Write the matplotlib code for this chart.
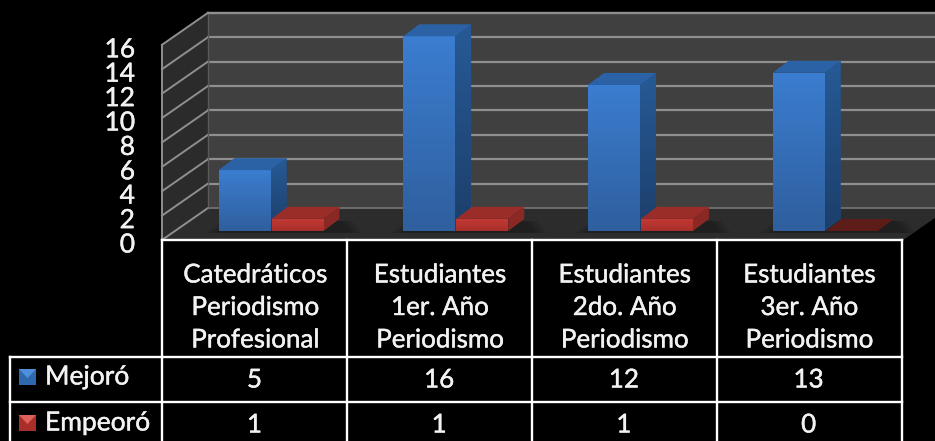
import matplotlib
matplotlib.use("Agg")
import matplotlib.pyplot as plt
import matplotlib.patheffects as pe
import numpy as np
from matplotlib.colors import LinearSegmentedColormap

categorias = ["Catedráticos\nPeriodismo\nProfesional",
              "Estudiantes\n1er. Año\nPeriodismo",
              "Estudiantes\n2do. Año\nPeriodismo",
              "Estudiantes\n3er. Año\nPeriodismo"]
mejoro = [5, 16, 12, 13]
empeoro = [1, 1, 1, 0]
ticks = [0, 2, 4, 6, 8, 10, 12, 14, 16]

W, H = 935, 441
# escala: categoria -> px, valor -> px
PX_CAT = 184.7
PX_VAL = 12.17
X0 = 270.5
Y0 = 231


def dx(px):
    return (px - X0) / PX_CAT


def dy(px):
    return (Y0 - px) / PX_VAL


DEPTH_X = 16 / PX_CAT
DEPTH_Y = 12 / PX_VAL
ANCHO = 52 / PX_CAT
# el texto original se ve algo mas grueso que Lato normal
GROSOR = [pe.withStroke(linewidth=0.3, foreground="#f2f2f2")]
TEXTO = "#f2f2f2"

fig = plt.figure(figsize=(W / 100, H / 100), dpi=100, facecolor="black")
ax = fig.add_axes([0, 0, 1, 1])
ax.set_xlim(dx(0), dx(W))
ax.set_ylim(dy(H), dy(0))
ax.axis("off")
plt.rcParams["font.family"] = ["Lato", "DejaVu Sans"]

# --- paredes y piso ---
ax.fill([dx(208), dx(W), dx(W), dx(208)], [dy(13), dy(13), dy(208), dy(208)], color="#404040", zorder=1)
ax.fill([dx(162), dx(208), dx(208), dx(162)], [dy(45), dy(13), dy(208), dy(240)], color="#2b2b2b", zorder=1)
ax.fill([dx(162), dx(902), dx(948), dx(208)], [dy(240), dy(240), dy(208), dy(208)], color="#2c2c2c", zorder=1)

# grilla: pared del fondo y pared lateral
for t in ticks:
    y_front = dy(240 - t * 12.2)
    y_back = dy(208 - t * 12.2)
    if t > 0:
        ax.plot([dx(208), dx(W)], [y_back, y_back], color="#8f8f8f", lw=1.6, zorder=2)
    ax.plot([dx(162), dx(208)], [y_front, y_back], color="#8f8f8f", lw=1.4, zorder=2)
    ax.text(dx(135), y_front - 5 / PX_VAL, str(t), color=TEXTO, fontsize=19, ha="right", va="center",
            path_effects=GROSOR)
ax.plot([dx(162), dx(162)], [dy(45), dy(240)], color="#8f8f8f", lw=1.4, zorder=2)
ax.plot([dx(208), dx(208)], [dy(13), dy(208)], color="#5a5a5a", lw=1, zorder=2)
ax.plot([dx(208), dx(W)], [dy(13), dy(13)], color="#8f8f8f", lw=1.6, zorder=2)
# la ultima linea de grilla queda justo sobre el piso
ax.plot([dx(208), dx(W)], [dy(208), dy(208)], color="#777777", lw=1.2, zorder=2)

azul_front = LinearSegmentedColormap.from_list("a", ["#2f5f9e", "#3b7dd0"])
azul_lado = LinearSegmentedColormap.from_list("al", ["#1c3f6b", "#275a96"])
rojo_front = LinearSegmentedColormap.from_list("r", ["#a92e2a", "#c43a34"])
grad = np.linspace(0, 1, 64).reshape(-1, 1)


def sombra(izq, der):
    for k, a in zip([12, 7, 3], [0.25, 0.3, 0.35]):
        ax.fill([izq - k / PX_CAT, der + DEPTH_X + (10 + k) / PX_CAT, der + DEPTH_X + k / PX_CAT, izq + DEPTH_X - k / PX_CAT],
                [-2 / PX_VAL, -2 / PX_VAL, 10 / PX_VAL, 10 / PX_VAL], color="#1a1a1a", alpha=a, lw=0, zorder=3)


def barra3d(x, v, cmap, c_top, c_lado, z):
    izq, der = x - ANCHO / 2, x + ANCHO / 2
    front = ax.bar(x, v, width=ANCHO, color=c_top, zorder=z)[0]
    im = ax.imshow(grad, extent=(izq, der, 0, v), aspect="auto", origin="lower", cmap=cmap, zorder=z + 0.1)
    im.set_clip_path(front)
    lado = ax.fill([der, der + DEPTH_X, der + DEPTH_X, der], [0, DEPTH_Y, v + DEPTH_Y, v], color=c_lado, lw=0, zorder=z)[0]
    if cmap is azul_front:
        im2 = ax.imshow(grad, extent=(der, der + DEPTH_X, 0, v + DEPTH_Y), aspect="auto", origin="lower",
                        cmap=azul_lado, zorder=z + 0.1)
        im2.set_clip_path(lado)
    ax.fill([izq, der, der + DEPTH_X, izq + DEPTH_X], [v, v, v + DEPTH_Y, v + DEPTH_Y], color=c_top, lw=0, zorder=z + 0.2)


for i in range(len(categorias)):
    x_az = i - ANCHO / 2
    x_ro = i + ANCHO / 2 + 1 / PX_CAT
    sombra(x_az - ANCHO / 2, x_ro + ANCHO / 2)
    z = 5 + i
    if empeoro[i] > 0:
        barra3d(x_ro, empeoro[i], rojo_front, "#9a2d28", "#8a2824", z + 0.5)
    else:
        izq, der = x_ro - ANCHO / 2, x_ro + ANCHO / 2
        ax.fill([izq, der, der + DEPTH_X, izq + DEPTH_X], [0, 0, DEPTH_Y, DEPTH_Y], color="#5e1c19", lw=0, zorder=z)
    barra3d(x_az, mejoro[i], azul_front, "#2b62a6", "#234f86", z)

# --- tabla de datos ---
cols = [162, 347, 532, 717, 902]
LW = 1.7
ax.plot([dx(162), dx(902)], [dy(240), dy(240)], color="white", lw=LW, zorder=20)
for f in [357, 402]:
    ax.plot([dx(10), dx(902)], [dy(f), dy(f)], color="white", lw=LW, zorder=20)
ax.plot([dx(10), dx(10)], [dy(357), dy(H)], color="white", lw=LW, zorder=20)
for c in cols:
    ax.plot([dx(c), dx(c)], [dy(240), dy(H)], color="white", lw=LW, zorder=20)

for i, nombre in enumerate(categorias):
    for j, linea in enumerate(nombre.split("\n")):
        ax.text(i - 15 / PX_CAT, dy(275 + j * 32.5), linea, color=TEXTO, fontsize=18.7,
                ha="center", va="center", zorder=21, path_effects=GROSOR)
    ax.text(i - 16 / PX_CAT, dy(380), str(mejoro[i]), color=TEXTO, fontsize=18.7, ha="center", va="center",
            zorder=21, path_effects=GROSOR)
    ax.text(i - 16 / PX_CAT, dy(425), str(empeoro[i]), color=TEXTO, fontsize=18.7, ha="center", va="center",
            zorder=21, path_effects=GROSOR)

for nombre, y_c, c_base, c_tri in [("Mejoró", 377, "#2f68ad", "#4f8fdc"), ("Empeoró", 423, "#a92e2a", "#e0605a")]:
    ax.fill([dx(19), dx(36), dx(36), dx(19)], [dy(y_c - 8), dy(y_c - 8), dy(y_c + 8), dy(y_c + 8)], color=c_base, lw=0, zorder=21)
    ax.fill([dx(19), dx(36), dx(27.5)], [dy(y_c - 8), dy(y_c - 8), dy(y_c + 1)], color=c_tri, lw=0, zorder=22)
    ax.text(dx(45), dy(y_c), nombre, color=TEXTO, fontsize=19, ha="left", va="center", zorder=21,
            path_effects=GROSOR)

ax.set_xlim(dx(0), dx(W))
ax.set_ylim(dy(H), dy(0))
fig.savefig("out.png", dpi=100, facecolor="black")
